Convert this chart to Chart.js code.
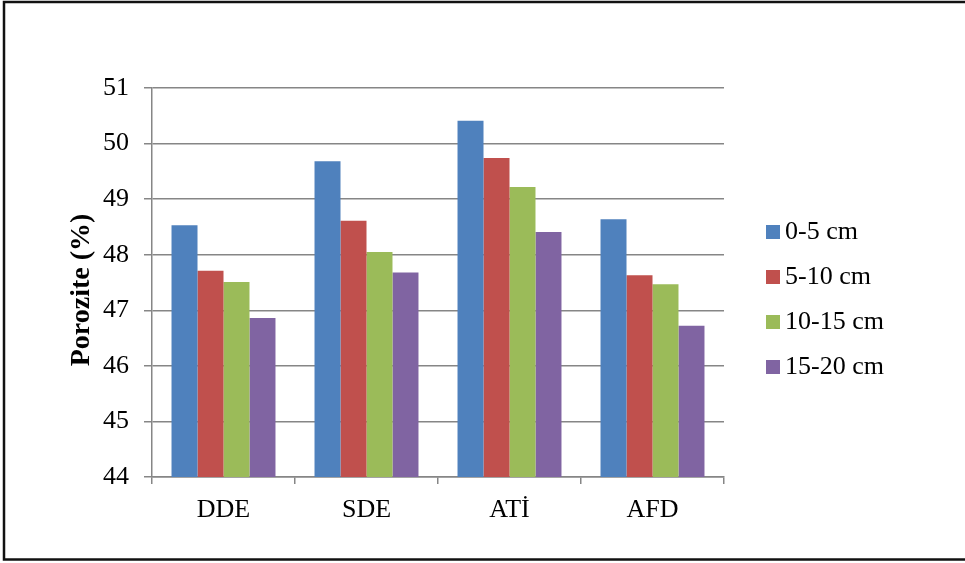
<!DOCTYPE html>
<html>
<head>
<meta charset="utf-8">
<script src="https://cdn.jsdelivr.net/npm/chart.js@4/dist/chart.umd.min.js"></script>
<style>
  html, body { margin: 0; padding: 0; background: #fff; }
  #wrap { width: 965px; height: 563px; position: relative; }
</style>
</head>
<body>
<div id="wrap"><canvas id="c" width="965" height="563"></canvas></div>
<script>
// Porosity by site and soil depth
const categories = ['DDE', 'SDE', 'ATİ', 'AFD'];
const depthLabels = ['0-5 cm', '5-10 cm', '10-15 cm', '15-20 cm'];
const depth0to5   = [48.53, 49.68, 50.41, 48.64];
const depth5to10  = [47.71, 48.61, 49.74, 47.63];
const depth10to15 = [47.51, 48.05, 49.22, 47.47];
const depth15to20 = [46.86, 47.68, 48.41, 46.72];
const yTicks = [44, 45, 46, 47, 48, 49, 50, 51];
const yTitle = 'Porozite (%)';

const colors = ['#4F81BD', '#C0504D', '#9BBB59', '#8064A2'];
const series = [depth0to5, depth5to10, depth10to15, depth15to20];
const serif = "'Liberation Serif', 'Times New Roman', serif";

// Frame around the figure, the y-axis title and a hand-placed legend
const framePlugin = {
  id: 'frame',
  afterDraw(chart) {
    const ctx = chart.ctx;
    ctx.save();
    ctx.strokeStyle = '#111';
    ctx.lineWidth = 2.5;
    ctx.strokeRect(4, 2, 964, 557.5);

    ctx.save();
    ctx.translate(82, 290);
    ctx.rotate(-Math.PI / 2);
    ctx.font = 'bold 28px ' + serif;
    ctx.fillStyle = '#000';
    ctx.textAlign = 'center';
    ctx.textBaseline = 'middle';
    ctx.fillText(yTitle, 0, 0);
    ctx.restore();

    ctx.font = '26px ' + serif;
    ctx.textBaseline = 'middle';
    chart.data.datasets.forEach((ds, i) => {
      const y = 232 + i * 45;
      ctx.fillStyle = ds.backgroundColor;
      ctx.fillRect(766, y - 7, 14, 14);
      ctx.fillStyle = '#000';
      ctx.fillText(ds.label, 785, y);
    });
    ctx.restore();
  }
};

new Chart(document.getElementById('c'), {
  type: 'bar',
  data: {
    labels: categories,
    datasets: series.map((vals, i) => ({
      label: depthLabels[i],
      data: vals,
      backgroundColor: colors[i],
      borderWidth: 0,
      categoryPercentage: 0.727,
      barPercentage: 1.0
    }))
  },
  options: {
    responsive: false,
    animation: false,
    devicePixelRatio: 1,
    layout: { padding: { left: 50, right: 241, top: 88, bottom: 0 } },
    plugins: {
      legend: { display: false },
      tooltip: { enabled: false }
    },
    scales: {
      x: {
        afterFit(scale) { scale.height = 86; },
        grid: {
          offset: true,
          drawOnChartArea: false,
          drawTicks: true,
          tickLength: 7,
          color: '#868686',
          lineWidth: 1.5
        },
        border: { color: '#868686', width: 1.5 },
        ticks: {
          color: '#000',
          padding: 11,
          font: { family: serif, size: 26 }
        }
      },
      y: {
        min: 44,
        max: 51,
        afterFit(scale) { scale.width = 102; },
        afterBuildTicks(scale) { scale.ticks = yTicks.map(v => ({ value: v })); },
        grid: {
          color: '#868686',
          lineWidth: 1.5,
          tickLength: 8
        },
        border: { color: '#868686', width: 1.5 },
        ticks: {
          color: '#000',
          padding: 15,
          font: { family: serif, size: 26 }
        }
      }
    }
  },
  plugins: [framePlugin]
});
</script>
</body>
</html>
